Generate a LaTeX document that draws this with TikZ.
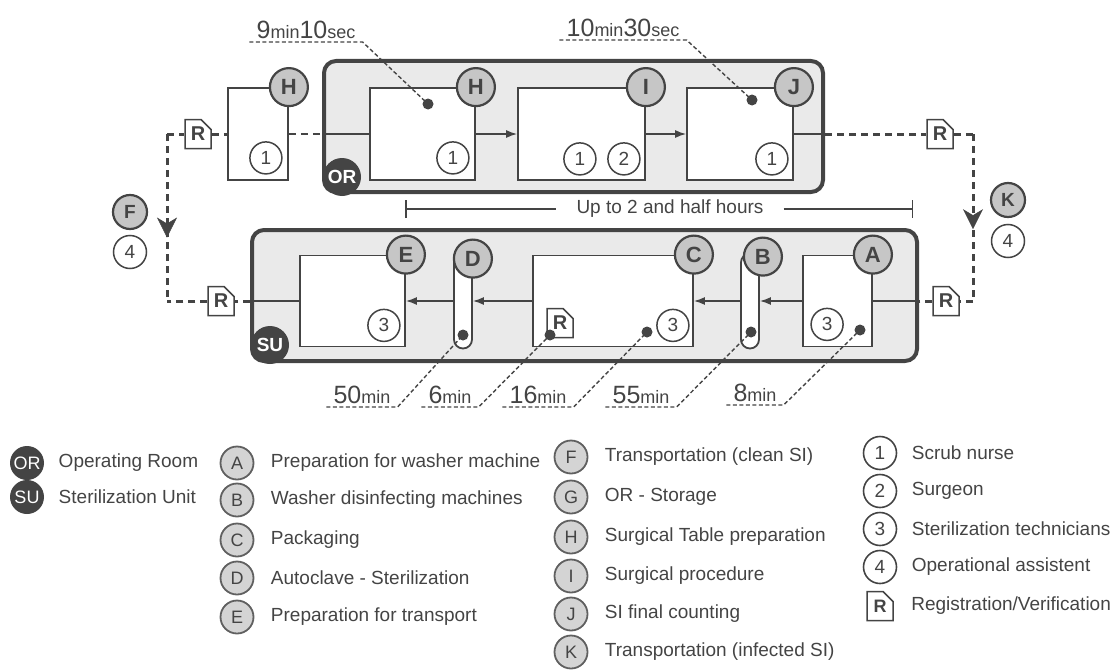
\documentclass[tikz,border=0pt]{standalone}
\usepackage{fontspec}
\setmainfont{Liberation Sans}
\usetikzlibrary{arrows.meta,positioning,shapes.misc,calc,decorations.markings}
\definecolor{ScanInk}{RGB}{68,68,68}
\definecolor{ScanAsh}{RGB}{198,198,198}
\definecolor{ScanPaper}{RGB}{234,234,234}
\newcommand{\lapsenum}[1]{{\fontsize{25}{25}\selectfont #1}}
\newcommand{\lapseunit}[1]{{\fontsize{18}{18}\selectfont #1}}

\begin{document}
\begin{tikzpicture}[x=1pt, y=-1pt,
  every node/.style={text=ScanInk},
  zone/.style={draw=ScanInk, line width=4pt, rounded corners=12pt, fill=ScanPaper, inner sep=0pt},
  proc/.style={draw=ScanInk, line width=1.8pt, fill=white, inner sep=0pt, minimum height=92pt},
  pill/.style={draw=ScanInk, line width=1.8pt, fill=white, rounded corners=9pt,
    minimum width=18pt, minimum height=95pt, inner sep=0pt},
  letter/.style={circle, draw=ScanInk, line width=2.2pt, fill=ScanAsh, minimum size=38pt,
    inner sep=0pt, font=\fontsize{22}{22}\selectfont\bfseries},
  staff/.style={circle, draw=ScanInk, line width=1.5pt, fill=white, minimum size=32pt,
    inner sep=0pt, font=\fontsize{19}{19}\selectfont},
  disc/.style={circle, fill=ScanInk, text=white, minimum size=38pt, inner sep=0pt,
    font=\fontsize{19}{19}\selectfont\bfseries},
  reg/.style={chamfered rectangle, chamfered rectangle corners=north east,
    chamfered rectangle xsep=5pt, chamfered rectangle ysep=5pt, draw=ScanInk, line width=1.5pt,
    fill=white, minimum width=26pt, minimum height=29pt, inner sep=0pt,
    font=\fontsize{20}{20}\selectfont\bfseries},
  dot/.style={circle, fill=ScanInk, minimum size=11pt, inner sep=0pt},
  flow/.style={-{Latex[length=11pt,width=8pt]}, line width=1.5pt, draw=ScanInk},
  link/.style={line width=1.5pt, draw=ScanInk},
  transport/.style={line width=3pt, draw=ScanInk, dash pattern=on 7pt off 5pt},
  handover/.style={line width=1.8pt, draw=ScanInk, dash pattern=on 7pt off 5pt},
  downtip/.style={postaction={decorate}, decoration={markings, mark=at position #1 with
    {\arrow{Stealth[length=20pt, width=20pt, inset=6pt, line width=0.5pt]}}}},
  leader/.style={line width=1.4pt, draw=ScanInk, dash pattern=on 4pt off 2.5pt},
  lapse/.style={inner xsep=7pt, inner ysep=3pt, anchor=south},
  span/.style={line width=1.5pt, draw=ScanInk},
  legdisc/.style={circle, fill=ScanInk, text=white, minimum size=34pt, inner sep=0pt,
    font=\fontsize{18}{18}\selectfont},
  legletter/.style={circle, draw=ScanInk!85, line width=1.8pt, fill=ScanAsh!75, minimum size=33pt,
    inner sep=0pt, font=\fontsize{18}{18}\selectfont},
  legstaff/.style={circle, draw=ScanInk, line width=1.6pt, fill=white, minimum size=33pt,
    inner sep=0pt, font=\fontsize{19}{19}\selectfont},
  legtext/.style={font=\fontsize{19}{22}\selectfont}
]
\useasboundingbox (0,0) rectangle (1113,669);

% rooms
\node[zone, minimum width=499pt, minimum height=131pt] (ORzone) at (573.5,126.5) {};
\node[zone, minimum width=665pt, minimum height=131pt] (SUzone) at (584.5,295.5) {};

% operating room steps
\node[proc, minimum width=60pt] (Gbox) at (258,134) {};
\node[proc, minimum width=105pt] (Hbox) at (422.5,134) {};
\node[proc, minimum width=127pt] (Ibox) at (581.5,134) {};
\node[proc, minimum width=106pt] (Jbox) at (740,134) {};
% sterilization unit steps
\node[proc, minimum width=105pt, minimum height=91pt] (Ebox) at (352.5,301) {};
\node[pill] (Dpill) at (463,301) {};
\node[proc, minimum width=160pt, minimum height=91pt] (Cbox) at (613,301) {};
\node[pill] (Bpill) at (750,301) {};
\node[proc, minimum width=69pt, minimum height=91pt] (Abox) at (837.5,301) {};

\node[disc] (ORdisc) at (342,177) {OR};
\node[disc] (SUdisc) at (270,345) {SU};

% step letters
\node[letter] (Gtag) at (Gbox.north east) {H};
\node[letter] (Htag) at (Hbox.north east) {H};
\node[letter] (Itag) at (Ibox.north east) {I};
\node[letter] (Jtag) at (Jbox.north east) {J};
\node[letter] (Etag) at (Ebox.north east) {E};
\node[letter] (Dtag) at ([yshift=-6pt]Dpill.north east) {D};
\node[letter] (Ctag) at (Cbox.north east) {C};
\node[letter] (Btag) at ([xshift=3pt,yshift=-4pt]Bpill.north east) {B};
\node[letter] (Atag) at (Abox.north east) {A};

% staff
\node[staff] (Gnurse) at ([xshift=-23pt,yshift=23pt]Gbox.south east) {1};
\node[staff] (Hnurse) at ([xshift=-23pt,yshift=23pt]Hbox.south east) {1};
\node[staff] (Isurgeon) at ([xshift=-22pt,yshift=22pt]Ibox.south east) {2};
\node[staff] (Inurse) at ([xshift=-66pt,yshift=22pt]Ibox.south east) {1};
\node[staff] (Jnurse) at ([xshift=-22pt,yshift=22pt]Jbox.south east) {1};
\node[staff] (Etech) at ([xshift=-22pt,yshift=22pt]Ebox.south east) {3};
\node[staff] (Ctech) at ([xshift=-21pt,yshift=22pt]Cbox.south east) {3};
\node[staff] (Atech) at ([xshift=25pt,yshift=23pt]Abox.south west) {3};

% registrations
\node[reg] (regIn) at (198,134) {R};
\node[reg] (regOut) at (940,134) {R};
\node[reg] (regWash) at (946,301) {R};
\node[reg] (regShip) at (221,301) {R};
\node[reg] (regPack) at (560,323) {R};

% transports
\node[letter, minimum size=34pt, font=\fontsize{19}{19}\selectfont\bfseries] (Ftag) at (130,212) {F};
\node[staff, minimum size=33pt] (Fassist) at (130,252) {4};
\node[letter, minimum size=34pt, font=\fontsize{19}{19}\selectfont\bfseries] (Ktag) at (1008,200) {K};
\node[staff, minimum size=33pt] (Kassist) at (1008,241) {4};

% flow inside the rooms
\draw[flow] (Hbox.east) -- (Ibox.west);
\draw[flow] (Ibox.east) -- (Jbox.west);
\draw[flow] (Abox.west) -- (Bpill.east);
\draw[flow] (Bpill.west) -- (Cbox.east);
\draw[flow] (Cbox.west) -- (Dpill.east);
\draw[flow] (Dpill.west) -- (Ebox.east);

% OR side
\draw[transport] (regIn.east) -- (Gbox.west);
\draw[handover] (Gbox.east) -- (Gbox.east -| ORzone.west);
\draw[link] (Gbox.east -| ORzone.west) -- (Hbox.west);
\draw[link] (Jbox.east) -- (Jbox.east -| ORzone.east);
\draw[transport] (Jbox.east -| ORzone.east) -- (regOut.west);

% infected SI to the SU
\coordinate (kTop) at (973,134);
\coordinate (kBot) at (973,301);
\draw[transport] (regOut.east) -- (kTop);
\draw[transport, downtip=0.57] (kTop) -- (kBot);
\draw[transport] (kBot) -- (regWash.east);
\draw[transport] (regWash.west) -- (regWash.west -| SUzone.east);
\draw[link] (regWash.west -| SUzone.east) -- (Abox.east);

% clean SI back
\coordinate (fTop) at (167,134);
\coordinate (fBot) at (167,301);
\draw[link] (Ebox.west) -- (Ebox.west -| SUzone.west);
\draw[transport] (Ebox.west -| SUzone.west) -- (regShip.east);
\draw[transport] (regShip.west) -- (fBot);
\draw[transport, downtip=0.62] (fTop) -- (fBot);
\draw[transport] (fTop) -- (regIn.west);

% timings
\node[dot] (dH) at (428,104) {};
\node[dot] (dJ) at (752,100) {};
\node[dot] (dD) at (463,335) {};
\node[dot] (dPack) at (550,335) {};
\node[dot] (dC) at (647,332) {};
\node[dot] (dB) at (751,332) {};
\node[dot] (dA) at (860,330) {};
\node[lapse] (t910) at (306,42) {\lapsenum{9}\lapseunit{min}\lapsenum{10}\lapseunit{sec}};
\node[lapse] (t1030) at (623,40) {\lapsenum{10}\lapseunit{min}\lapsenum{30}\lapseunit{sec}};
\node[lapse] (t50) at (362,407) {\lapsenum{50}\lapseunit{min}};
\node[lapse] (t6) at (450,407) {\lapsenum{6}\lapseunit{min}};
\node[lapse] (t16) at (538,407) {\lapsenum{16}\lapseunit{min}};
\node[lapse] (t55) at (641,407) {\lapsenum{55}\lapseunit{min}};
\node[lapse] (t8) at (755,405) {\lapsenum{8}\lapseunit{min}};
\draw[leader] (t910.south west) -- (t910.south east) -- (dH.center);
\draw[leader] (t1030.south west) -- (t1030.south east) -- (dJ.center);
\draw[leader] (t50.south west) -- (t50.south east) -- (dD.center);
\draw[leader] (t6.south west) -- (t6.south east) -- (dPack.center);
\draw[leader] (t16.south west) -- (t16.south east) -- (dC.center);
\draw[leader] (t55.south west) -- (t55.south east) -- (dB.center);
\draw[leader] (t8.south west) -- (t8.south east) -- (dA.center);

% span
\coordinate (spanL) at (405,209);
\coordinate (spanR) at (913,209);
\node[inner xsep=20pt, font=\fontsize{19}{22}\selectfont] (spanTxt) at (670,209) {Up to 2 and half hours};
\draw[span, {Bar[width=18pt]}-] (spanL) -- (spanTxt.west);
\draw[span, -{Bar[width=18pt]}] (spanTxt.east) -- (spanR);

% legend
\node[legdisc] (lgOR) at (27,463) {OR};
\node[legtext, right=11pt of lgOR] (lgORtxt) {Operating Room};
\node[legdisc] (lgSU) at (27,497) {SU};
\node[legtext, right=11pt of lgSU] (lgSUtxt) {Sterilization Unit};
\node[legletter] (lgA) at (237,463) {A};
\node[legtext, right=13pt of lgA] (lgAtxt) {Preparation for washer machine};
\node[legletter] (lgB) at (237,500) {B};
\node[legtext, right=13pt of lgB] (lgBtxt) {Washer disinfecting machines};
\node[legletter] (lgC) at (237,540) {C};
\node[legtext, right=13pt of lgC] (lgCtxt) {Packaging};
\node[legletter] (lgD) at (237,578) {D};
\node[legtext, right=13pt of lgD] (lgDtxt) {Autoclave - Sterilization};
\node[legletter] (lgE) at (237,617) {E};
\node[legtext, right=13pt of lgE] (lgEtxt) {Preparation for transport};
\node[legletter] (lgF) at (571,457) {F};
\node[legtext, right=13pt of lgF] (lgFtxt) {Transportation (clean SI)};
\node[legletter] (lgG) at (571,497) {G};
\node[legtext, right=13pt of lgG] (lgGtxt) {OR - Storage};
\node[legletter] (lgH) at (571,537) {H};
\node[legtext, right=13pt of lgH] (lgHtxt) {Surgical Table preparation};
\node[legletter] (lgI) at (571,576) {I};
\node[legtext, right=13pt of lgI] (lgItxt) {Surgical procedure};
\node[legletter] (lgJ) at (571,614) {J};
\node[legtext, right=13pt of lgJ] (lgJtxt) {SI final counting};
\node[legletter] (lgK) at (571,652) {K};
\node[legtext, right=13pt of lgK] (lgKtxt) {Transportation (infected SI)};
\node[legstaff] (lg1) at (880,453) {1};
\node[legtext, right=11pt of lg1] (lg1txt) {Scrub nurse};
\node[legstaff] (lg2) at (880,491) {2};
\node[legtext, right=11pt of lg2] (lg2txt) {Surgeon};
\node[legstaff] (lg3) at (880,529) {3};
\node[legtext, right=11pt of lg3] (lg3txt) {Sterilization technicians};
\node[legstaff] (lg4) at (880,567) {4};
\node[legtext, right=11pt of lg4] (lg4txt) {Operational assistent};
\node[reg, font=\fontsize{18}{18}\selectfont\bfseries] (lgR) at (880,606) {R};
\node[legtext, right=14pt of lgR] (lgRtxt) {Registration/Verification};
\end{tikzpicture}
\end{document}
